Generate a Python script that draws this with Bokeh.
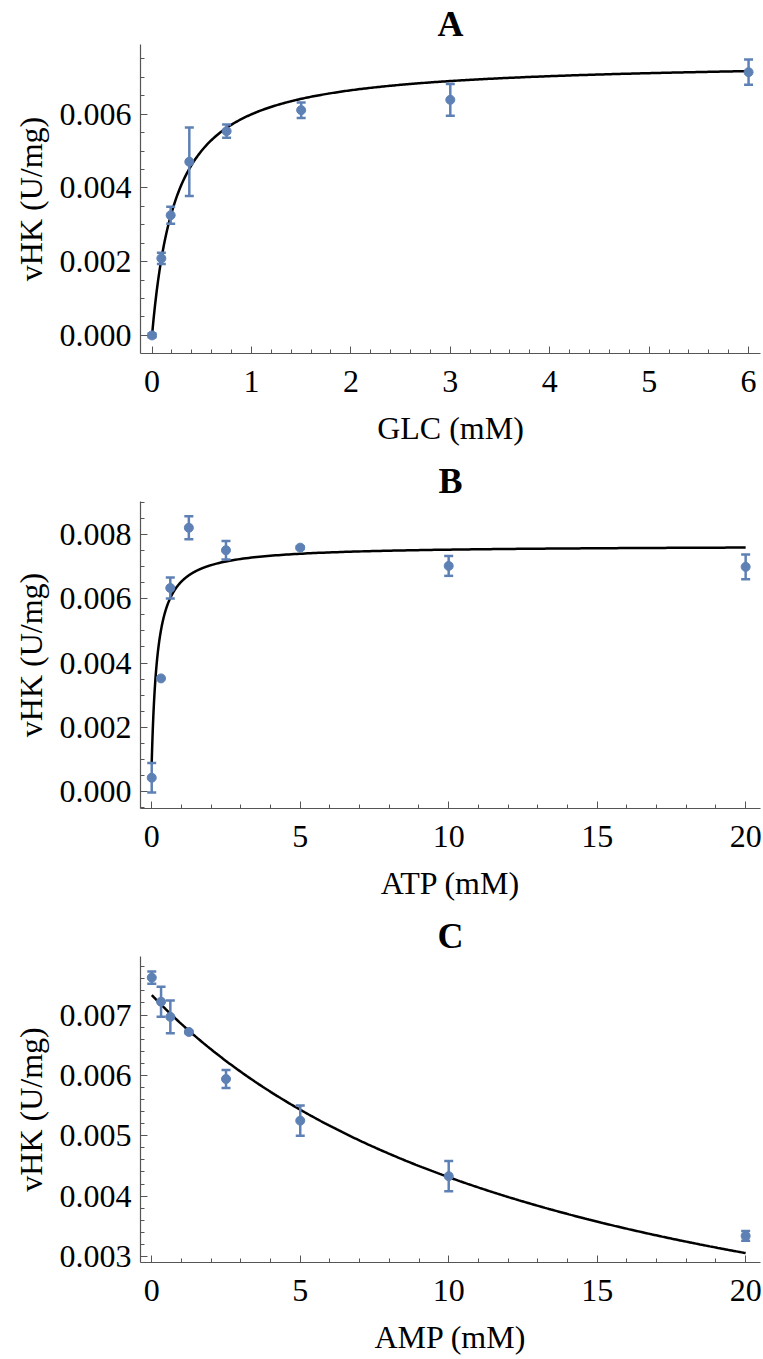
import numpy as np
from bokeh.plotting import figure
from bokeh.models import ColumnDataSource, Whisker, TeeHead, FixedTicker, Range1d, NumeralTickFormatter
from bokeh.layouts import column
from bokeh.embed import file_html
from bokeh.resources import INLINE

# ---------------- data ----------------
# Panel A: glucose
glc_x = [0.0, 0.09375, 0.1875, 0.375, 0.75, 1.5, 3.0, 6.0]
glc_v = [0.0, 0.00209, 0.00326, 0.00471, 0.00554, 0.00611, 0.00639, 0.00714]
glc_err = [0.00005, 0.00015, 0.00023, 0.00093, 0.00018, 0.00021, 0.00043, 0.00034]
glc_vmax, glc_km = 0.00746, 0.244

# Panel B: ATP
atp_x = [0.0, 0.3125, 0.625, 1.25, 2.5, 5.0, 10.0, 20.0]
atp_v = [0.00042, 0.00352, 0.00634, 0.00822, 0.00752, 0.00760, 0.00703, 0.00700]
atp_err = [0.00046, 0.0, 0.00033, 0.00036, 0.00029, 0.00004, 0.00031, 0.00039]
atp_base, atp_vmax, atp_km = 0.0009, 0.00677, 0.2

# Panel C: AMP
amp_x = [0.0, 0.3125, 0.625, 1.25, 2.5, 5.0, 10.0, 20.0]
amp_v = [0.00762, 0.00722, 0.00697, 0.00672, 0.00594, 0.00525, 0.00433, 0.00334]
amp_err = [0.00010, 0.00025, 0.00027, 0.00002, 0.00015, 0.00025, 0.00025, 0.00008]
amp_v0, amp_ki = 0.00733, 14.3

titles = ["A", "B", "C"]
xlabels = ["GLC (mM)", "ATP (mM)", "AMP (mM)"]
ylabel = "vHK (U/mg)"

BLUE = "#5E81B5"
AXIS = "#555555"
FONT = "Liberation Serif"


def make_panel(title, xlabel, xs, vs, errs, curve_x, curve_y, xr, yr,
               xmaj, xmin, ymaj, ymin, height, border_bottom, yfmt):
    p = figure(width=763, height=height, output_backend="svg", toolbar_location=None,
               x_range=Range1d(*xr), y_range=Range1d(*yr),
               min_border_left=140, min_border_right=3, min_border_top=0,
               min_border_bottom=border_bottom)
    p.outline_line_color = None
    p.xgrid.visible = False
    p.ygrid.visible = False
    p.background_fill_color = "white"
    p.border_fill_color = "white"

    p.title.text = title
    p.title.align = "center"
    p.title.text_font = FONT
    p.title.text_font_style = "bold"
    p.title.text_font_size = "36px"
    p.title.text_color = "black"
    p.title.standoff = 2

    p.line(curve_x, curve_y, line_color="black", line_width=2.5)

    upper = [v + e for v, e in zip(vs, errs) if e > 0]
    lower = [v - e for v, e in zip(vs, errs) if e > 0]
    bx = [x for x, e in zip(xs, errs) if e > 0]
    wsrc = ColumnDataSource(dict(base=bx, upper=upper, lower=lower))
    w = Whisker(base="base", upper="upper", lower="lower", source=wsrc,
                line_color=BLUE, line_width=2.5, level="glyph",
                upper_head=TeeHead(size=9, line_color=BLUE, line_width=2.5),
                lower_head=TeeHead(size=9, line_color=BLUE, line_width=2.5))
    p.add_layout(w)
    p.scatter(xs, vs, size=9, fill_color=BLUE, line_color=BLUE)

    for ax in (p.xaxis[0], p.yaxis[0]):
        ax.axis_line_color = AXIS
        ax.axis_line_width = 1.2
        ax.major_tick_line_color = AXIS
        ax.minor_tick_line_color = AXIS
        ax.major_tick_in = 7
        ax.major_tick_out = 0
        ax.minor_tick_in = 4
        ax.minor_tick_out = 0
        ax.major_label_text_font = FONT
        ax.major_label_text_font_size = "32px"
        ax.major_label_text_color = "black"
        ax.axis_label_text_font = FONT
        ax.axis_label_text_font_size = "32px"
        ax.axis_label_text_font_style = "normal"
        ax.axis_label_text_color = "black"

    p.xaxis[0].ticker = FixedTicker(ticks=xmaj, minor_ticks=xmin)
    p.yaxis[0].ticker = FixedTicker(ticks=ymaj, minor_ticks=ymin)
    p.xaxis[0].formatter = NumeralTickFormatter(format="0")
    p.yaxis[0].formatter = NumeralTickFormatter(format=yfmt)
    p.xaxis[0].axis_label = xlabel
    p.yaxis[0].axis_label = ylabel
    p.xaxis[0].major_label_standoff = 17
    p.xaxis[0].axis_label_standoff = 15
    p.yaxis[0].major_label_standoff = 9
    p.yaxis[0].axis_label_standoff = 8
    return p


# fitted curves (model parameters above)
cA = np.linspace(0, 6, 400)
yA = glc_vmax * cA / (glc_km + cA)
cB = np.concatenate([np.linspace(0, 2, 300), np.linspace(2, 20, 200)])
yB = atp_base + atp_vmax * cB / (atp_km + cB)
cC = np.linspace(0, 20, 300)
yC = amp_v0 / (1 + cC / amp_ki)

pA = make_panel(titles[0], xlabels[0], glc_x, glc_v, glc_err, cA, yA,
                (-0.116, 6.12), (-0.00049, 0.00789),
                list(range(0, 7)), [round(i * 0.2, 1) for i in range(0, 31)],
                [0.0, 0.002, 0.004, 0.006], [round(i * 0.0005, 4) for i in range(-1, 16)],
                457, 104, "0.000")
pB = make_panel(titles[1], xlabels[1], atp_x, atp_v, atp_err, cB, yB,
                (-0.378, 20.5), (-0.00054, 0.00904),
                [0, 5, 10, 15, 20], list(range(0, 21)),
                [0.0, 0.002, 0.004, 0.006, 0.008], [round(i * 0.0005, 4) for i in range(-1, 19)],
                455, 104, "0.000")
pC = make_panel(titles[2], xlabels[2], amp_x, amp_v, amp_err, cC, yC,
                (-0.38, 20.5), (0.0029, 0.00797),
                [0, 5, 10, 15, 20], list(range(0, 21)),
                [0.003, 0.004, 0.005, 0.006, 0.007], [round(0.003 + i * 0.0002, 4) for i in range(0, 25)],
                447, 97, "0.000")

layout = column(pA, pB, pC, spacing=0)
open("out.html", "w").write(file_html(layout, INLINE))
